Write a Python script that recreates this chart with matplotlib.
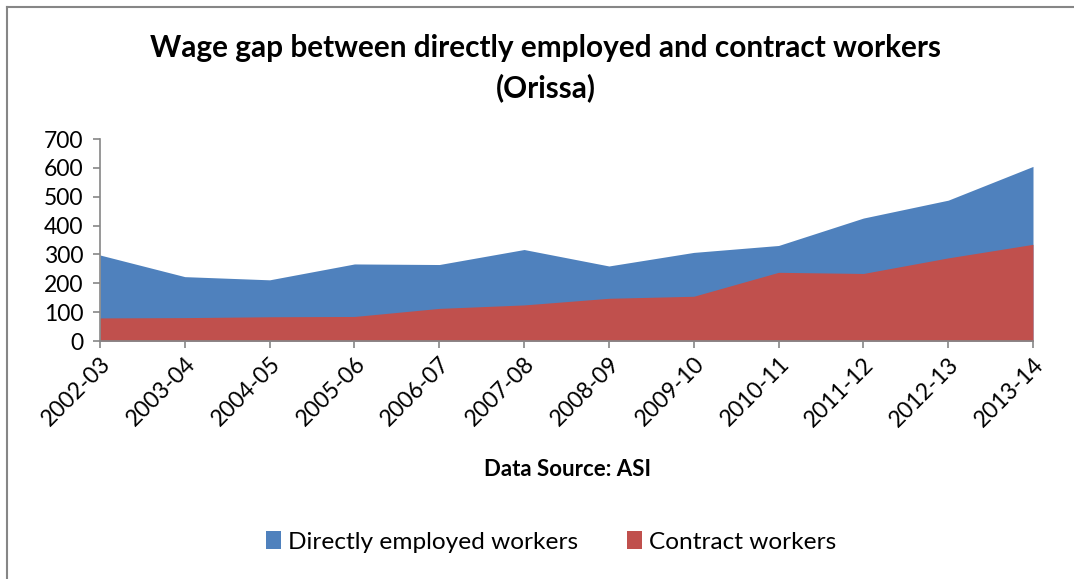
import matplotlib
matplotlib.use("Agg")
import numpy as np
import matplotlib.pyplot as plt
from matplotlib.patches import Patch
from matplotlib.lines import Line2D

years = ["2002-03", "2003-04", "2004-05", "2005-06", "2006-07", "2007-08",
         "2008-09", "2009-10", "2010-11", "2011-12", "2012-13", "2013-14"]
direct_wage = [298, 223, 212, 267, 265, 317, 260, 307, 331, 426, 488, 605]
contract_wage = [80, 81, 84, 85, 113, 125, 148, 155, 238, 234, 288, 335]

BLUE = "#4F81BD"
RED = "#C0504D"
GREY = "#868686"

plt.rcParams["font.family"] = ["Lato", "DejaVu Sans"]

fig = plt.figure(figsize=(10.74, 5.79), dpi=100)
ax = fig.add_axes([100 / 1074, 1 - 341 / 579, 933 / 1074, 202 / 579])

x = np.arange(len(years))
ax.fill_between(x, 0, direct_wage, color=BLUE, linewidth=0)
ax.fill_between(x, 0, contract_wage, color=RED, linewidth=0)

ax.set_xlim(0, len(years) - 1)
ax.set_ylim(0, 700)
ax.set_yticks(range(0, 701, 100))
ax.set_xticks(x)
ax.set_xticklabels(years, rotation=45, ha="right", va="top",
                   rotation_mode="anchor")
ax.tick_params(axis="both", colors=GREY, labelcolor="black", labelsize=16.5,
               length=5, width=1.2, direction="out")
ax.tick_params(axis="x", pad=4)
ax.tick_params(axis="y", pad=7)
for side in ("top", "right"):
    ax.spines[side].set_visible(False)
for side in ("left", "bottom"):
    ax.spines[side].set_color(GREY)
    ax.spines[side].set_linewidth(1.2)

fig.text(546 / 1074, 1 - 48 / 579, "Wage gap between directly employed and contract workers",
         ha="center", va="center", fontsize=21.4, fontweight="bold")
fig.text(546 / 1074, 1 - 88 / 579, "(Orissa)", ha="center", va="center",
         fontsize=21.4, fontweight="bold")
fig.text(567 / 1074, 1 - 470 / 579, "Data Source: ASI", ha="center",
         va="center", fontsize=16, fontweight="bold")

handles = [Patch(facecolor=BLUE), Patch(facecolor=RED)]
fig.legend(handles, ["Directly employed workers", "Contract workers"],
           loc="center", bbox_to_anchor=(551 / 1074, 1 - 542 / 579),
           ncol=2, frameon=False, fontsize=17.6, handlelength=0.6,
           handleheight=0.7, handletextpad=0.3, columnspacing=2.0)

# chart frame (top and left edges)
fig.add_artist(Line2D([7 / 1074, 7 / 1074], [0, 1 - 7 / 579],
                      transform=fig.transFigure, color=GREY, linewidth=1.5))
fig.add_artist(Line2D([7 / 1074, 1], [1 - 7 / 579, 1 - 7 / 579],
                      transform=fig.transFigure, color=GREY, linewidth=1.5))

fig.savefig("out.png", dpi=100)
